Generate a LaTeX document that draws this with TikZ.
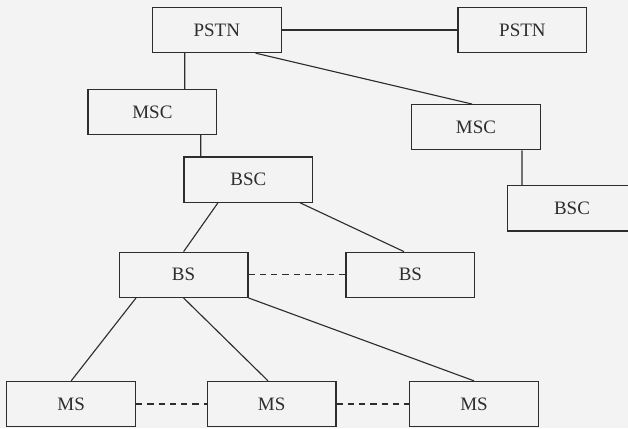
\documentclass[tikz,border=0pt]{standalone}
\usepackage{fontspec}
\setmainfont{Liberation Serif}
\usepackage{xcolor}
\definecolor{inkgray}{RGB}{45, 45, 45}
\definecolor{papergray}{RGB}{243, 243, 243}
\usepackage{tikz}
\usetikzlibrary{arrows.meta, positioning, calc}

\tikzset{
  netbox/.style={draw=inkgray, line width=0.8pt, minimum width=3.22cm, minimum height=1.13cm, inner sep=0pt, font=\fontsize{13.5}{15}\selectfont, text=inkgray},
  netline/.style={inkgray, line width=0.8pt},
  peerline/.style={inkgray, line width=0.8pt, dash pattern=on 4.5pt off 3.5pt}
}

\begin{document}
\begin{tikzpicture}
  % Background (scanned page)
  \fill[papergray] (0,0) rectangle (15.7,10.7);
  \useasboundingbox (0,0) rectangle (15.7,10.7);

  % PSTN level
  \node[netbox] (pstnA) at (5.42,9.95) {PSTN};
  \node[netbox] (pstnB) at (13.06,9.95) {PSTN};
  \draw[netline] (pstnA.east) -- (pstnB.west);

  % MSC level
  \node[netbox] (mscA) at (3.81,7.9) {MSC};
  \node[netbox] (mscB) at (11.9,7.52) {MSC};
  \draw[netline] ([xshift=-0.8cm]pstnA.south) -- ([xshift=0.81cm]mscA.north);
  \draw[netline] ([xshift=0.97cm]pstnA.south) -- ([xshift=-0.1cm]mscB.north);

  % BSC level
  \node[netbox] (bscA) at (6.21,6.21) {BSC};
  \node[netbox] (bscB) at (14.3,5.49) {BSC};
  \draw[netline] ([xshift=1.21cm]mscA.south) -- ([xshift=-1.19cm]bscA.north);
  \draw[netline] ([xshift=1.15cm]mscB.south) -- ([xshift=-1.25cm]bscB.north);

  % BS level
  \node[netbox] (bsA) at (4.59,3.83) {BS};
  \node[netbox] (bsB) at (10.26,3.83) {BS};
  \draw[netline] ([xshift=-0.76cm]bscA.south) -- (bsA.north);
  \draw[netline] ([xshift=1.29cm]bscA.south) -- ([xshift=-0.16cm]bsB.north);
  \draw[peerline] (bsA.east) -- (bsB.west);

  % MS level
  \node[netbox] (msA) at (1.78,0.6) {MS};
  \node[netbox] (msB) at (6.79,0.6) {MS};
  \node[netbox] (msC) at (11.85,0.6) {MS};
  \draw[netline] ([xshift=-1.19cm]bsA.south) -- (msA.north);
  \draw[netline] (bsA.south) -- ([xshift=-0.09cm]msB.north);
  \draw[netline] (bsA.south east) -- (msC.north);
  \draw[peerline] (msA.east) -- (msB.west);
  \draw[peerline] (msB.east) -- (msC.west);
\end{tikzpicture}
\end{document}
